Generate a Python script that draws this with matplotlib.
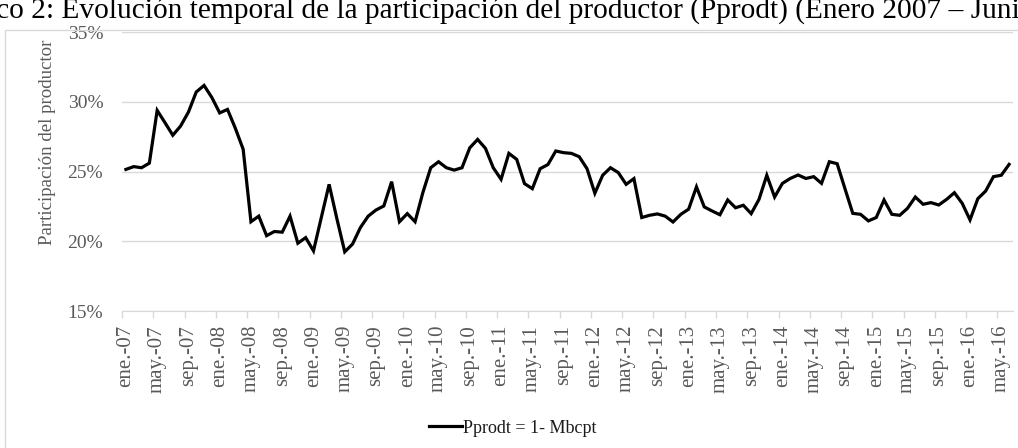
import matplotlib
matplotlib.use('Agg')
import matplotlib.pyplot as plt
from matplotlib.patches import Rectangle
import numpy as np

# Participacion del productor, ene-2007 .. jun-2016 (mensual, %)
pprodt = [25.15, 25.35, 25.27, 25.6, 29.38, 28.5, 27.6, 28.26, 29.26, 30.7,
          31.17, 30.3, 29.2, 29.45, 28.1, 26.6, 21.4, 21.8, 20.4, 20.7,
          20.65, 21.8, 19.86, 20.26, 19.31, 21.7, 24.08, 21.6, 19.24, 19.8,
          20.98, 21.8, 22.24, 22.53, 24.27, 21.4, 21.98, 21.4, 23.5, 25.27,
          25.7, 25.27, 25.1, 25.27, 26.7, 27.3, 26.66, 25.27, 24.44, 26.3,
          25.87, 24.13, 23.77, 25.2, 25.5, 26.47, 26.35, 26.3, 26.06, 25.2,
          23.44, 24.73, 25.27, 24.92, 24.08, 24.49, 21.7, 21.86, 21.96, 21.8,
          21.38, 21.93, 22.3, 23.9, 22.46, 22.17, 21.9, 22.96, 22.4, 22.58,
          21.98, 23.0, 24.73, 23.17, 24.15, 24.5, 24.75, 24.5, 24.63, 24.15,
          25.7, 25.56, 23.77, 22.0, 21.93, 21.46, 21.7, 22.96, 21.93, 21.86,
          22.36, 23.17, 22.65, 22.77, 22.6, 23.0, 23.48, 22.72, 21.53, 23.05,
          23.6, 24.63, 24.73, 25.51]

meses = ['ene.', 'may.', 'sep.']
anios = ['07', '08', '09', '10', '11', '12', '13', '14', '15', '16']
etiquetas = [m + '-' + a for a in anios for m in meses][:29]

titulo = 'Gráfico 2: Evolución temporal de la participación del productor (Pprodt) (Enero 2007 – Junio 2016)'

gris = '#595959'
plt.rcParams['font.family'] = ['Liberation Serif', 'DejaVu Serif']

W, H = 1018, 448
fig = plt.figure(figsize=(W / 100, H / 100), dpi=100)

# marco del grafico
fig.patches.append(Rectangle((5 / W, -0.1), 1.1, 1 - 30 / H + 0.1, transform=fig.transFigure,
                             fill=False, edgecolor='#d9d9d9', linewidth=1))

# titulo recortado por los bordes, como en la imagen original
fig.text(0.513, 1 - 18 / H, titulo, ha='center', va='baseline', fontsize=21.2, color='black')

ax = fig.add_axes([122 / W, 1 - 311 / H, (1013 - 122) / W, (311 - 32) / H])
x = np.arange(len(pprodt))
ax.plot(x, np.array(pprodt) / 100, color='black', linewidth=2.3, solid_joinstyle='miter',
        label='Pprodt = 1- Mbcpt')

ax.set_xlim(-0.5, len(pprodt) - 0.5)
ax.set_ylim(0.15, 0.35)
ax.set_yticks([0.15, 0.20, 0.25, 0.30, 0.35])
ax.set_yticklabels(['15%', '20%', '25%', '30%', '35%'])
ax.yaxis.grid(True, color='#d9d9d9', linewidth=1)
ax.set_axisbelow(True)
ax.tick_params(axis='y', length=0, pad=13.5, labelsize=14, labelcolor=gris)

ax.set_xticks(np.arange(0, len(pprodt), 4))
ax.set_xticklabels(etiquetas, rotation=90)
ax.set_xticks(np.arange(-0.5, len(pprodt), 4), minor=True)
ax.tick_params(axis='x', which='major', length=0, pad=10, labelsize=15, labelcolor=gris)
ax.tick_params(axis='x', which='minor', length=5, color='#d9d9d9', width=1)

for s in ['top', 'right', 'left']:
    ax.spines[s].set_visible(False)
ax.spines['bottom'].set_color('#d9d9d9')

ax.set_ylabel('Participación del productor', fontsize=13.6, color=gris)
ax.yaxis.set_label_coords(-0.074, 0.606)

fig.legend(loc='center', bbox_to_anchor=(513 / W, 1 - 428 / H), frameon=False, fontsize=13,
           handlelength=1.8, handletextpad=0.1, labelcolor='#1a1a1a')

fig.savefig('out.png', dpi=100)
